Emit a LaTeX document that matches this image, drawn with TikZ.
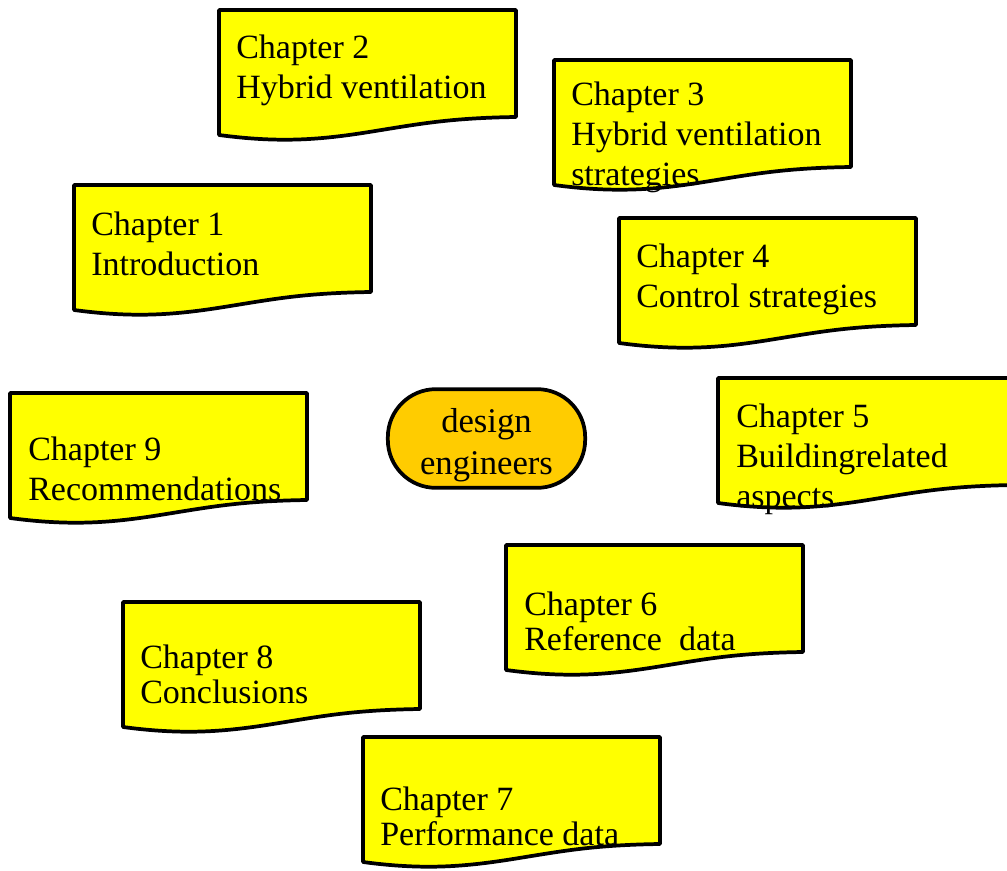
\documentclass[tikz,border=0pt]{standalone}
\usepackage{fontspec}
\setmainfont{Liberation Serif}
\usepackage{tikz}
\usetikzlibrary{positioning}
\definecolor{chapyellow}{RGB}{255,255,0}
\definecolor{engorange}{RGB}{255,204,0}

\begin{document}
\begin{tikzpicture}[x=0.75pt,y=-0.75pt,
  docbox/.style={draw=black,fill=chapyellow,line width=2.8pt,line join=round},
  chaptext/.style={anchor=base west,align=left,inner sep=0pt,font=\fontsize{25.5}{30}\selectfont},
  lowtext/.style={chaptext,font=\fontsize{25.5}{26}\selectfont},
  engineer/.style={draw=black,fill=engorange,line width=2.8pt,rounded corners=36pt,
    minimum width=148pt,minimum height=74pt,inner sep=0pt},
  engtext/.style={align=center,inner sep=0pt,font=\fontsize{26}{31.5}\selectfont}]
\useasboundingbox (0,0) rectangle (1007,871);

\draw[docbox,shift={(219,10)}] (0,0) -- (297,0) -- (297,107) .. controls (230,108) and (200,114) .. (150,122) .. controls (100,130) and (60,133) .. (0,125) -- cycle;
\draw[docbox,shift={(554,60)}] (0,0) -- (297,0) -- (297,107) .. controls (230,108) and (200,114) .. (150,122) .. controls (100,130) and (60,133) .. (0,125) -- cycle;
\draw[docbox,shift={(74,185)}] (0,0) -- (297,0) -- (297,107) .. controls (230,108) and (200,114) .. (150,122) .. controls (100,130) and (60,133) .. (0,125) -- cycle;
\draw[docbox,shift={(619,218)}] (0,0) -- (297,0) -- (297,107) .. controls (230,108) and (200,114) .. (150,122) .. controls (100,130) and (60,133) .. (0,125) -- cycle;
\draw[docbox,shift={(10,393)}] (0,0) -- (297,0) -- (297,107) .. controls (230,108) and (200,114) .. (150,122) .. controls (100,130) and (60,133) .. (0,125) -- cycle;
\draw[docbox,shift={(718,378)}] (0,0) -- (297,0) -- (297,107) .. controls (230,108) and (200,114) .. (150,122) .. controls (100,130) and (60,133) .. (0,125) -- cycle;
\draw[docbox,shift={(506,545)}] (0,0) -- (297,0) -- (297,107) .. controls (230,108) and (200,114) .. (150,122) .. controls (100,130) and (60,133) .. (0,125) -- cycle;
\draw[docbox,shift={(123,602)}] (0,0) -- (297,0) -- (297,107) .. controls (230,108) and (200,114) .. (150,122) .. controls (100,130) and (60,133) .. (0,125) -- cycle;
\draw[docbox,shift={(363,737)}] (0,0) -- (297,0) -- (297,107) .. controls (230,108) and (200,114) .. (150,122) .. controls (100,130) and (60,133) .. (0,125) -- cycle;

% base anchor = last line
\node (ch2) at (236,98) [chaptext] {Chapter 2\\Hybrid ventilation};
\node (ch3) at (571,185) [chaptext] {Chapter 3\\Hybrid ventilation\\strategies};
\node (ch1) at (91,275) [chaptext] {Chapter 1\\Introduction};
\node (ch4) at (636,307) [chaptext] {Chapter 4\\Control strategies};
\node (ch9) at (28,500) [chaptext] {Chapter 9\\Recommendations};
\node (ch5) at (736,507) [chaptext] {Chapter 5\\Buildingrelated\\aspects};
\node (ch6) at (524,650) [lowtext] {Chapter 6\\Reference\ \ data};
\node (ch8) at (140,703) [lowtext] {Chapter 8\\Conclusions};
\node (ch7) at (380,845) [lowtext] {Chapter 7\\Performance data};

\node (eng) at (486.5,438.5) [engineer] {};
\node (engtxt) at ([yshift=-5pt]eng.center) [engtext] {design\\engineers};
\end{tikzpicture}
\end{document}
